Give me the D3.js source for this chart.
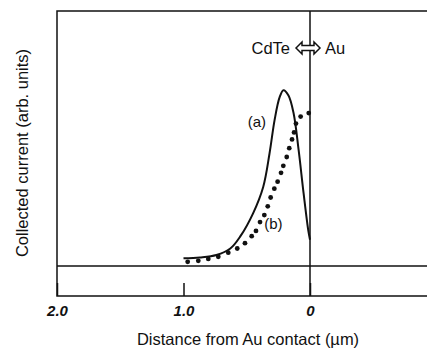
<!DOCTYPE html>
<html lang="en">
<head>
	<title>Collected current vs distance</title>
	<script type="text/javascript" src="https://cdn.jsdelivr.net/npm/d3@7"></script>
	<style>
		body { margin: 0; background: #fff; }
		svg text { font-family: "Liberation Sans", Arial, sans-serif; fill: #111; }
		.frame { fill: none; stroke: #111; stroke-width: 1.5; }
		.curveA { fill: none; stroke: #111; stroke-width: 2; }
		.dotB { fill: #111; }
		.tick text { font-size: 15px; font-weight: bold; font-style: italic; }
	</style>
</head>
<body>
	<div id="chart"></div>

	<script type="text/javascript">

		// curve (a): distance from contact (um), collected current (arb.)
		var distA = [1.00, 0.87, 0.74, 0.63, 0.55, 0.45, 0.37, 0.32, 0.28, 0.24, 0.21, 0.17, 0.13, 0.09, 0.05, 0.013, 0.0];
		var currA = [0.044, 0.049, 0.063, 0.10, 0.17, 0.30, 0.45, 0.64, 0.83, 0.96, 1.00, 0.97, 0.87, 0.66, 0.41, 0.20, 0.15];

		// curve (b): dotted measurements
		var distB = [0.967, 0.883, 0.804, 0.725, 0.646, 0.575, 0.514, 0.461, 0.427, 0.395, 0.361, 0.334, 0.311, 0.282, 0.256, 0.229, 0.211, 0.184, 0.164, 0.142, 0.126, 0.111, 0.074, 0.010];
		var currB = [0.024, 0.030, 0.041, 0.053, 0.076, 0.10, 0.13, 0.17, 0.20, 0.25, 0.29, 0.34, 0.39, 0.44, 0.48, 0.53, 0.57, 0.62, 0.67, 0.72, 0.76, 0.81, 0.85, 0.87];

		var tickVals = [2.0, 1.0, 0];
		var tickLabels = ["2.0", "1.0", "0"];

		var w = 427,
		    h = 348;

		var svg = d3.select("#chart")
			.append("svg")
			.attr("width", w)
			.attr("height", h);

		var padL = 57, padT = 11, padB = 296;

		var x = d3.scaleLinear().domain([2.0, 0]).range([padL, 310]);
		var y = d3.scaleLinear().domain([-0.17, 1.45]).range([padB, padT]);

		// frame (right side runs off the page)
		svg.append("path")
			.attr("class", "frame")
			.attr("d", "M" + (w + 5) + "," + padT + "H" + padL + "V" + padB + "H" + (w + 5));

		// zero current line
		svg.append("line")
			.attr("class", "frame")
			.attr("x1", padL).attr("x2", w)
			.attr("y1", y(0)).attr("y2", y(0));

		// contact interface
		svg.append("line")
			.attr("class", "frame")
			.attr("x1", x(0)).attr("x2", x(0))
			.attr("y1", padT).attr("y2", padB);

		// x axis
		var xAxis = d3.axisBottom(x)
			.tickValues(tickVals)
			.tickSize(-13)
			.tickPadding(9)
			.tickFormat(function(d, i) {return tickLabels[i];});

		var gx = svg.append("g")
			.attr("transform", "translate(0," + padB + ")")
			.call(xAxis);
		gx.select(".domain").remove();
		gx.selectAll(".tick line").attr("stroke", "#111").attr("stroke-width", 1.5);

		// curve (a)
		var ptsA = distA.map(function(d, i) {return [x(d), y(currA[i])];});
		svg.append("path")
			.attr("class", "curveA")
			.attr("d", d3.line().curve(d3.curveCatmullRom)(ptsA));

		// curve (b)
		svg.selectAll(".dotB")
			.data(distB)
			.enter()
			.append("circle")
			.attr("class", "dotB")
			.attr("cx", function(d) {return x(d);})
			.attr("cy", function(d, i) {return y(currB[i]);})
			.attr("r", 2.4);

		// curve labels
		svg.append("text")
			.attr("x", x(0.42)).attr("y", y(0.79))
			.attr("text-anchor", "middle")
			.attr("font-size", "15px")
			.text("(a)");
		svg.append("text")
			.attr("x", x(0.29)).attr("y", y(0.21))
			.attr("text-anchor", "middle")
			.attr("font-size", "15px")
			.text("(b)");

		// CdTe <=> Au
		svg.append("text")
			.attr("x", 290).attr("y", 54)
			.attr("text-anchor", "end")
			.attr("font-size", "16.5px")
			.text("CdTe");
		svg.append("text")
			.attr("x", 325).attr("y", 54)
			.attr("font-size", "16.5px")
			.text("Au");

		var ay = 48, ax0 = 296, ax1 = 320;
		var arrow = d3.path();
		arrow.moveTo(ax0, ay);
		arrow.lineTo(ax0 + 6, ay - 6);
		arrow.lineTo(ax0 + 6, ay - 2.5);
		arrow.lineTo(ax1 - 6, ay - 2.5);
		arrow.lineTo(ax1 - 6, ay - 6);
		arrow.lineTo(ax1, ay);
		arrow.lineTo(ax1 - 6, ay + 6);
		arrow.lineTo(ax1 - 6, ay + 2.5);
		arrow.lineTo(ax0 + 6, ay + 2.5);
		arrow.lineTo(ax0 + 6, ay + 6);
		arrow.closePath();
		svg.append("path")
			.attr("d", arrow.toString())
			.attr("fill", "#fff")
			.attr("stroke", "#111")
			.attr("stroke-width", 1.5)
			.attr("stroke-linejoin", "miter");

		// axis titles
		svg.append("text")
			.attr("x", 248).attr("y", 345)
			.attr("text-anchor", "middle")
			.attr("font-size", "16.5px")
			.text("Distance from Au contact (\u00b5m)");

		svg.append("text")
			.attr("transform", "translate(28," + 153 + ") rotate(-90)")
			.attr("text-anchor", "middle")
			.attr("font-size", "16.5px")
			.text("Collected current (arb. units)");

	</script>
</body>
</html>
